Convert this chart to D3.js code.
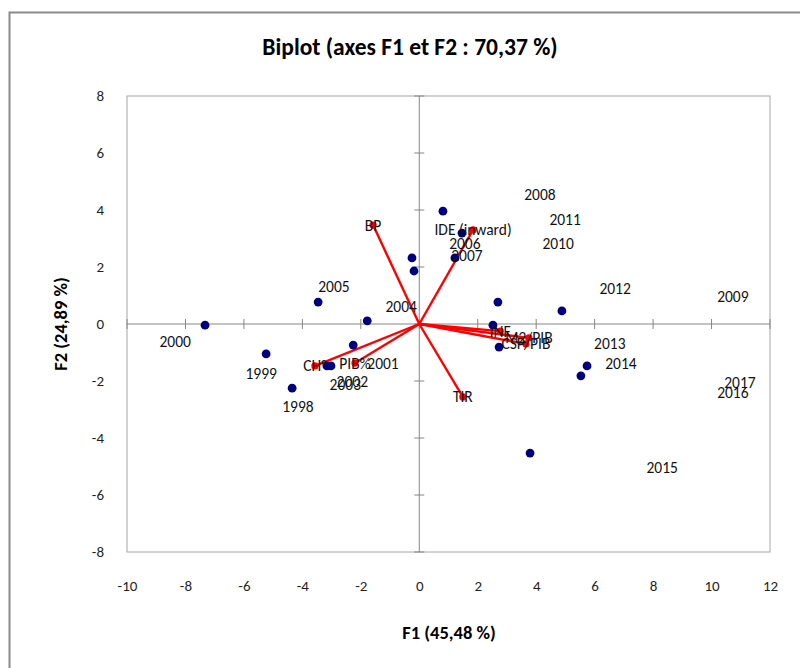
<!DOCTYPE html>
<html>
<head>
<meta charset="utf-8">
<script src="https://cdn.jsdelivr.net/npm/d3@7"></script>
<style>
  html, body { margin: 0; padding: 0; background: #fff; }
  svg { display: block; }
  text { font-family: Carlito, Lato, "Open Sans", sans-serif; }
</style>
</head>
<body>
<svg id="chart" width="800" height="668"></svg>
<script>
// Observations (years): factor scores on F1 / F2
const obsF1 = [-7.33, -5.24, -4.35, -3.46, -1.78, -2.26, -3.16, -3.02, 0.81, 1.46,
               1.22, -0.25, -0.18, 2.69, 4.88, 2.52, 2.73, 5.74, 5.53, 3.79];
const obsF2 = [-0.04, -1.05, -2.25, 0.77, 0.11, -0.74, -1.47, -1.47, 3.96, 3.19,
               2.32, 2.32, 1.86, 0.77, 0.46, -0.04, -0.81, -1.47, -1.82, -4.53];

// Year labels and where they sit on the F1 / F2 plane
const yearNames = ["2000", "1999", "1998", "2005", "2004", "2001", "2002", "2003", "2006", "2007",
                   "2008", "2011", "2010", "2012", "2009", "2013", "2014", "2017", "2016", "2015"];
const yearF1 = [-8.35, -5.41, -4.15, -2.92, -0.62, -1.24, -2.29, -2.53, 1.56, 1.63,
                4.13, 4.99, 4.75, 6.70, 10.73, 6.52, 6.90, 10.97, 10.73, 8.31];
const yearF2 = [-0.60, -1.72, -2.88, 1.33, 0.63, -1.37, -2.00, -2.11, 2.84, 2.42,
                4.53, 3.68, 2.84, 1.26, 0.98, -0.67, -1.37, -2.07, -2.42, -5.05];

// Variables: loadings drawn as vectors from the origin
const varNames = ["BP", "IDE (inward)", "CH°", "PIB%", "TIR", "INF", "M2/PIB", "CSP/PIB"];
const varF1 = [-1.58, 1.84, -3.57, -2.20, 1.49, 2.77, 3.75, 3.65];
const varF2 = [3.47, 3.30, -1.47, -1.37, -2.56, -0.25, -0.49, -0.70];

const xTicks = [-10, -8, -6, -4, -2, 0, 2, 4, 6, 8, 10, 12];
const yTicks = [-8, -6, -4, -2, 0, 2, 4, 6, 8];

const titleText = "Biplot (axes F1 et F2 : 70,37 %)";
const xTitle = "F1 (45,48 %)";
const yTitle = "F2 (24,89 %)";

const svg = d3.select("#chart");

// outer chart frame
svg.append("rect")
  .attr("x", 9.5).attr("y", 12.5)
  .attr("width", 900).attr("height", 900)
  .attr("fill", "none").attr("stroke", "#8a8a8a").attr("stroke-width", 2);

const x = d3.scaleLinear().domain([-10, 12]).range([127, 770]);
const y = d3.scaleLinear().domain([-8, 8]).range([552, 96]);

// plot area border
svg.append("rect")
  .attr("x", x(-10)).attr("y", y(8))
  .attr("width", x(12) - x(-10)).attr("height", y(-8) - y(8))
  .attr("fill", "none").attr("stroke", "#a6a6a6").attr("stroke-width", 1);

// axes crossing at the origin, with ticks on both sides
const zeroG = svg.append("g").attr("stroke", "#868686").attr("stroke-width", 1);
zeroG.append("line")
  .attr("x1", x(-10)).attr("x2", x(12))
  .attr("y1", y(0)).attr("y2", y(0));
zeroG.append("line")
  .attr("x1", x(0)).attr("x2", x(0))
  .attr("y1", y(-8)).attr("y2", y(8));
zeroG.selectAll(".xt").data(xTicks).join("line")
  .attr("x1", d => x(d)).attr("x2", d => x(d))
  .attr("y1", y(0) - 5).attr("y2", y(0) + 5);
zeroG.selectAll(".yt").data(yTicks).join("line")
  .attr("x1", x(0) - 5).attr("x2", x(0) + 5)
  .attr("y1", d => y(d)).attr("y2", d => y(d));

// tick labels at the low side of the plot area
const xAxis = svg.append("g")
  .attr("transform", `translate(0,${y(-8) + 28})`)
  .call(d3.axisBottom(x).tickValues(xTicks).tickFormat(d => String(d)).tickSize(0).tickPadding(0));
const yAxis = svg.append("g")
  .attr("transform", `translate(${x(-10) - 20},0)`)
  .call(d3.axisLeft(y).tickValues(yTicks).tickFormat(d => String(d)).tickSize(0).tickPadding(3));
[xAxis, yAxis].forEach(g => {
  g.select(".domain").remove();
  g.selectAll("text").attr("fill", "#1f1f1f").style("font-size", "15px")
    .style("font-family", "Carlito, Lato, 'Open Sans', sans-serif");
});

// variable vectors
svg.append("g").selectAll("line").data(varNames).join("line")
  .attr("x1", x(0)).attr("y1", y(0))
  .attr("x2", (d, i) => x(varF1[i])).attr("y2", (d, i) => y(varF2[i]))
  .attr("stroke", "#ff0000").attr("stroke-width", 2.4);

// observations
svg.append("g").selectAll("circle").data(obsF1).join("circle")
  .attr("cx", d => x(d)).attr("cy", (d, i) => y(obsF2[i]))
  .attr("r", 4.4).attr("fill", "#00007f");

// vector tips
svg.append("g").selectAll("circle").data(varNames).join("circle")
  .attr("cx", (d, i) => x(varF1[i])).attr("cy", (d, i) => y(varF2[i]))
  .attr("r", 3.6).attr("fill", "#ff0000");

// labels
const labelStyle = sel => sel
  .attr("text-anchor", "middle").attr("dominant-baseline", "central")
  .attr("fill", "#111").style("font-size", "15.5px");

svg.append("g").selectAll("text").data(yearNames).join("text")
  .attr("x", (d, i) => x(yearF1[i])).attr("y", (d, i) => y(yearF2[i]))
  .text(d => d).call(labelStyle);

svg.append("g").selectAll("text").data(varNames).join("text")
  .attr("x", (d, i) => x(varF1[i])).attr("y", (d, i) => y(varF2[i]))
  .text(d => d).call(labelStyle);

// titles
svg.append("text")
  .attr("x", 410).attr("y", 47)
  .attr("text-anchor", "middle").attr("dominant-baseline", "central")
  .style("font-size", "23.5px").style("font-weight", "bold").attr("fill", "#000")
  .text(titleText);

svg.append("text")
  .attr("x", 449).attr("y", 632)
  .attr("text-anchor", "middle").attr("dominant-baseline", "central")
  .style("font-size", "18.5px").style("font-weight", "bold").attr("fill", "#000")
  .text(xTitle);

svg.append("text")
  .attr("transform", "translate(60,324) rotate(-90)")
  .attr("text-anchor", "middle").attr("dominant-baseline", "central")
  .style("font-size", "18.5px").style("font-weight", "bold").attr("fill", "#000")
  .text(yTitle);
</script>
</body>
</html>
